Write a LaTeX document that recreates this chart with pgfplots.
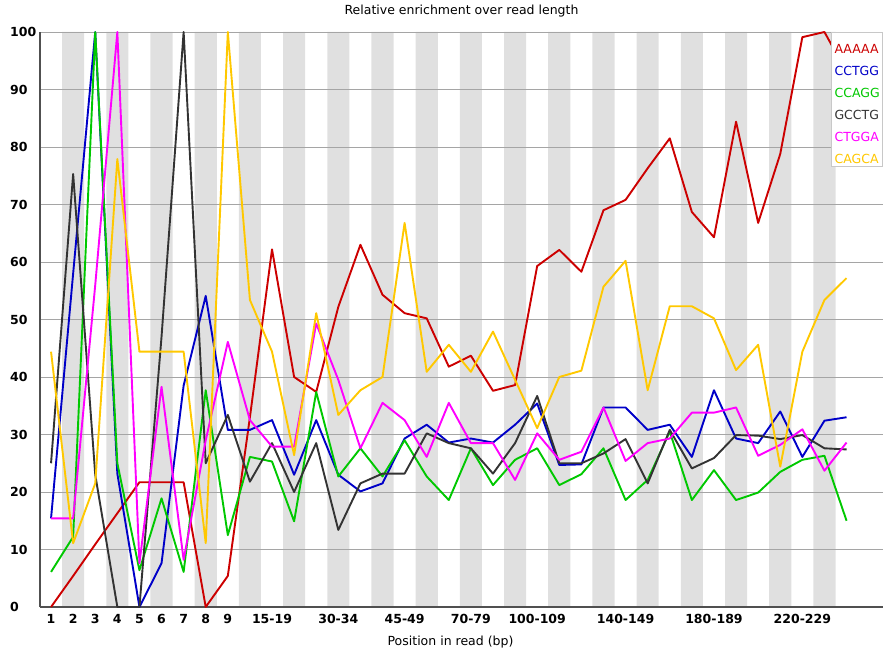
\documentclass[border=0pt]{standalone}
\usepackage{fontspec}
\setmainfont{DejaVu Sans}
\usepackage{pgfplots}
\usepackage{pgfplotstable}
\pgfplotsset{compat=1.18}
\definecolor{cA}{RGB}{204,0,0}
\definecolor{cB}{RGB}{0,0,200}
\definecolor{cC}{RGB}{0,200,0}
\definecolor{cD}{RGB}{51,51,51}
\definecolor{cE}{RGB}{255,0,255}
\definecolor{cF}{RGB}{255,200,0}
\definecolor{bandgray}{RGB}{224,224,224}
\definecolor{gridgray}{RGB}{165,165,165}
\definecolor{axisgray}{RGB}{80,80,80}
\definecolor{legendgray}{RGB}{200,200,200}

\pgfplotstableread{
x A B C D E F
0 0 15.4 6.1 25 15.4 44.4
1 5.4 58 12.2 75.3 15.4 11.1
2 10.9 100 100 23 56 21.5
3 16.3 23.2 25 0 100 77.9
4 21.7 0 6.4 0 7.6 44.4
5 21.7 7.6 18.9 47 38.3 44.4
6 21.7 38.5 6.1 100 8.2 44.4
7 0 54.1 37.7 25 29 11.1
8 5.4 30.8 12.5 33.4 46.1 100
9 33 30.8 26.1 21.8 32.5 53.4
10 62.2 32.5 25.3 28.5 27.9 44.4
11 40 23 14.9 20 27.9 26.4
12 37.4 32.5 37.4 28.5 49.3 51.1
13 52.2 23 22.7 13.4 39.5 33.4
14 63 20.1 27.6 21.5 27.6 37.7
15 54.3 21.5 22.7 23.2 35.5 40
16 51.1 29.3 29 23.2 32.5 66.8
17 50.2 31.7 22.7 30.2 26.1 40.9
18 41.8 28.6 18.6 28.5 35.5 45.6
19 43.7 29.3 27.6 27.6 28.5 40.9
20 37.6 28.6 21.2 23.2 28.5 47.9
21 38.6 31.7 25.6 28.5 22.1 39.5
22 59.3 35.4 27.6 36.7 30.2 31.1
23 62.1 24.7 21.2 25 25.6 40
24 58.3 24.8 23.1 25 27 41.1
25 69 34.7 27.6 26.7 34.7 55.7
26 70.8 34.7 18.6 29.2 25.4 60.2
27 76.3 30.8 22.1 21.5 28.5 37.7
28 81.5 31.7 30.5 30.8 29.3 52.3
29 68.7 26.1 18.6 24.1 33.8 52.3
30 64.3 37.7 23.8 25.9 33.8 50.2
31 84.4 29.3 18.6 29.9 34.7 41.2
32 66.8 28.5 19.9 29.8 26.3 45.6
33 78.8 34 23.5 29.2 28.2 24.4
34 99.1 26.1 25.6 29.9 30.9 44.4
35 100 32.4 26.3 27.6 23.7 53.4
36 93 33 15 27.4 28.6 57.2
}\kmers

\begin{document}
\begin{tikzpicture}
\begin{axis}[
  set layers,
  scale only axis, width=843bp, height=575bp,
  xmin=-0.5, xmax=37.65, ymin=0, ymax=100,
  clip=false,
  axis x line*=bottom, axis y line*=left,
  axis line style={draw=axisgray, line width=2bp},
  ytick={0,10,...,100},
  ymajorgrids,
  grid style={draw=gridgray, line width=0.9bp},
  xtick={0,1,2,3,4,5,6,7,8,10,13,16,19,22,26,30,34},
  xticklabels={1,2,3,4,5,6,7,8,9,15-19,30-34,45-49,70-79,100-109,140-149,180-189,220-229},
  major tick length=0pt,
  tick label style={font=\fontsize{12.5bp}{14bp}\selectfont\bfseries},
  /pgf/number format/assume math mode=true,
  yticklabel style={anchor=west, inner sep=0pt, xshift=-30bp},
  xticklabel style={anchor=base, inner sep=0pt, yshift=-16bp},
  title={Relative enrichment over read length},
  title style={at={(axis description cs:0.5,1)}, anchor=base, yshift=12bp, inner sep=0pt, font=\fontsize{12.5bp}{14bp}\selectfont},
  xlabel={Position in read (bp)},
  xlabel style={at={(axis description cs:0.5,0)}, anchor=base, yshift=-38bp, xshift=-11bp, inner sep=0pt, font=\fontsize{12.5bp}{14bp}\selectfont},
  every axis plot/.append style={line width=1.9bp, line join=round, no markers},
]
\addplot[ybar, bar width=1, bar shift=0, fill=bandgray, draw=none, forget plot, on layer=axis background, line width=0pt]
  coordinates {(1,100) (3,100) (5,100) (7,100) (9,100) (11,100) (13,100) (15,100) (17,100) (19,100) (21,100) (23,100) (25,100) (27,100) (29,100) (31,100) (33,100) (35,100)};
\addplot[cA] table[x=x, y=A] {\kmers};
\addplot[cB] table[x=x, y=B] {\kmers};
\addplot[cC] table[x=x, y=C] {\kmers};
\addplot[cD] table[x=x, y=D] {\kmers};
\addplot[cE] table[x=x, y=E] {\kmers};
\addplot[cF] table[x=x, y=F] {\kmers};
\node[draw=legendgray, line width=0.6bp, fill=white, anchor=north east, inner xsep=3bp, inner ysep=3bp, align=left, font=\fontsize{12.5bp}{22bp}\selectfont] at (rel axis cs:1,1)
  {\rule{0pt}{18bp}\textcolor{cA}{AAAAA}\\\textcolor{cB}{CCTGG}\\\textcolor{cC}{CCAGG}\\\textcolor{cD}{GCCTG}\\\textcolor{cE}{CTGGA}\\\textcolor{cF}{CAGCA}};
\end{axis}
\pgfresetboundingbox
\path[use as bounding box] ([shift={(-40bp,-52bp)}]current axis.south west) rectangle ([shift={(9bp,32bp)}]current axis.north east);
\end{tikzpicture}
\end{document}
